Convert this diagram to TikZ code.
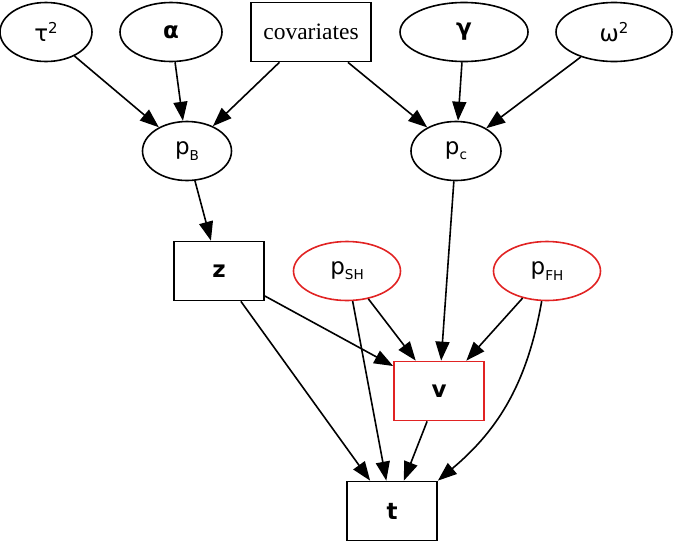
\documentclass[tikz,border=0pt]{standalone}
\usepackage{fontspec}
\setmainfont{DejaVu Sans}
\newfontfamily\covfont{Liberation Serif}
\usetikzlibrary{arrows.meta,shapes.geometric}
\definecolor{gvred}{RGB}{225,35,35}
\newcommand{\lowsub}[1]{\raisebox{-2.6pt}{\fontsize{6.8}{7}\selectfont #1}}
\newcommand{\sqr}{\raisebox{3.6pt}{\fontsize{7.5}{8}\selectfont 2}}

\begin{document}
\begin{tikzpicture}[x=0.5pt,y=0.5pt,
  font=\fontsize{11.5}{13}\selectfont,
  var/.style={draw, ellipse, line width=0.8pt, inner sep=0pt, minimum height=29.5pt},
  obs/.style={draw, rectangle, line width=0.85pt, inner sep=0pt, minimum height=29.5pt, minimum width=45pt},
  edge/.style={-{Triangle[length=9.5pt,width=7pt]}, line width=0.8pt}]
\useasboundingbox (0,0) rectangle (675,-542);
\node[var, minimum width=46pt] (tau) at (46,-32) {τ\sqr};
\node[var, minimum width=51pt] (alpha) at (171,-32) {\textbf{α}};
\node[obs, minimum width=60pt] (cov) at (311,-32) {\covfont\fontsize{11.75}{13}\selectfont covariates};
\node[var, minimum width=64pt] (gamma) at (464,-32) {\textbf{γ}};
\node[var, minimum width=58pt] (omega) at (614,-32) {ω\sqr};
\node[var, minimum width=44.5pt] (pB) at (187,-151) {p\lowsub{B}};
\node[var, minimum width=45pt] (pC) at (456,-151) {p\lowsub{c}};
\node[obs] (z) at (219,-271) {\textbf{z}};
\node[var, draw=gvred, minimum width=53.5pt] (pSH) at (347,-271) {p\lowsub{SH}};
\node[var, draw=gvred, minimum width=53.5pt] (pFH) at (547,-271) {p\lowsub{FH}};
\node[obs, draw=gvred] (v) at (439,-391) {\textbf{v}};
\node[obs] (t) at (392,-511) {\textbf{t}};
\draw[edge] (tau) -- (pB);
\draw[edge] (alpha) -- (pB);
\draw[edge] (cov) -- (pB);
\draw[edge] (cov) -- (pC);
\draw[edge] (gamma) -- (pC);
\draw[edge] (omega) -- (pC);
\draw[edge] (pB) -- (z);
\draw[edge] (pC) -- (v);
\draw[edge] (z) -- (v);
\draw[edge] (pSH) -- (v);
\draw[edge] (pFH) -- (v);
\draw[edge] (z) -- (t);
\draw[edge] (pSH) -- (t);
\draw[edge] (v) -- (t);
\draw[edge] (pFH) to[out=-100,in=40] (t.north east);
\end{tikzpicture}
\end{document}
